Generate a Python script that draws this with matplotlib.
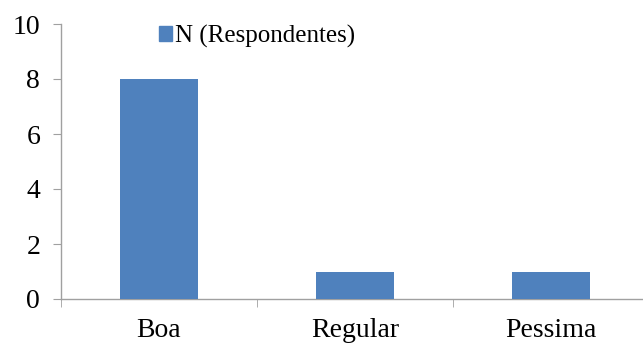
import matplotlib
matplotlib.use("Agg")
import matplotlib.pyplot as plt
from matplotlib.patches import Patch

categories = ["Boa", "Regular", "Pessima"]
values = [8, 1, 1]
series_name = "N (Respondentes)"
yticks = [0, 2, 4, 6, 8, 10]

plt.rcParams['font.family'] = ['Liberation Serif', 'DejaVu Serif']

fig = plt.figure(figsize=(6.43, 3.45), dpi=100)
W, H = 643, 345
x0, x1 = 61, 649
y0, y1 = 299, 24
ax = fig.add_axes([x0 / W, 1 - y0 / H, (x1 - x0) / W, (y0 - y1) / H])

ax.bar(range(len(categories)), values, width=0.4, color="#4F81BD", zorder=3)
ax.set_xlim(-0.5, len(categories) - 0.5)
ax.set_ylim(0, 10)
ax.set_yticks(yticks)
ax.set_yticklabels([str(v) for v in yticks], fontsize=20)
ax.set_xticks(range(len(categories)))
ax.set_xticklabels(categories, fontsize=20)
ax.tick_params(axis='x', length=0, pad=14)
ax.set_xticks([i + 0.5 for i in range(-1, len(categories))], minor=True)
ax.tick_params(axis='x', which='minor', length=6, color="#A0A0A0", direction='out')
ax.tick_params(axis='y', length=6, color="#A0A0A0", pad=9)

for s in ["top", "right"]:
    ax.spines[s].set_visible(False)
for s in ["left", "bottom"]:
    ax.spines[s].set_color("#A0A0A0")
    ax.spines[s].set_linewidth(1.0)

ax.legend(handles=[Patch(color="#4F81BD", label=series_name)], loc="upper left",
          bbox_to_anchor=(141 / W, 1 - 7 / H), bbox_transform=fig.transFigure,
          frameon=False, fontsize=18, borderpad=0.2,
          handlelength=0.55, handleheight=0.55, handletextpad=0.1)

fig.savefig("out.png", dpi=100)
